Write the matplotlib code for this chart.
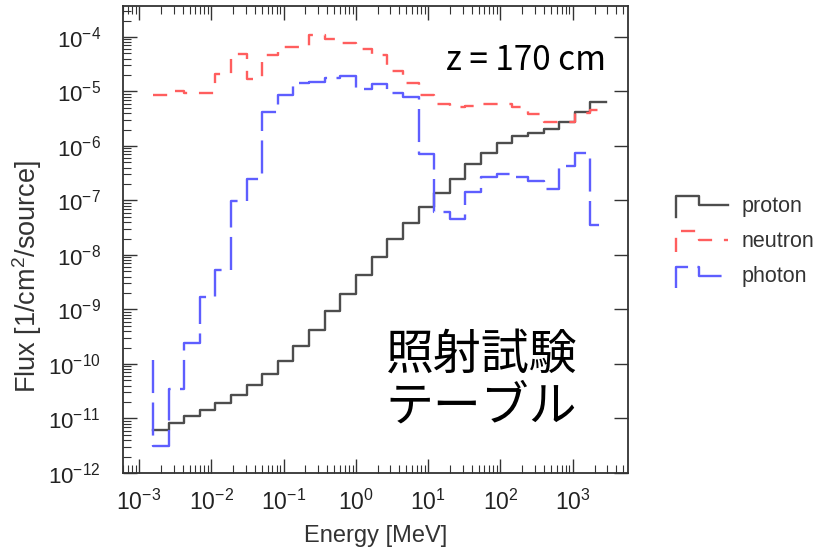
import numpy as np
import matplotlib
matplotlib.use("Agg")
import matplotlib.pyplot as plt
from matplotlib.lines import Line2D
from matplotlib.legend_handler import HandlerBase
from matplotlib.ticker import LogLocator, NullFormatter

plt.rcParams["font.family"] = ["Liberation Sans", "DejaVu Sans"]
plt.rcParams["mathtext.fontset"] = "custom"
plt.rcParams["mathtext.rm"] = "Liberation Sans"
plt.rcParams["mathtext.it"] = "Liberation Sans:italic"

# ---------------------------------------------------------------------------
# Data: flux per energy bin at z = 170 cm (shared bin edges, MeV)
# ---------------------------------------------------------------------------
edges_mev = [1.56e-3, 2.56e-3, 4.22e-3, 6.93e-3, 1.14e-2, 1.87e-2, 3.09e-2,
             5.08e-2, 8.35e-2, 0.137, 0.226, 0.372, 0.611, 1.00, 1.65, 2.72,
             4.48, 7.36, 12.1, 19.9, 32.7, 53.8, 88.5, 146.0, 240.0, 394.0,
             649.0, 1067.0, 1754.0, 2884.0]

proton = [6.1e-12, 8.1e-12, 1.09e-11, 1.46e-11, 1.95e-11, 2.68e-11, 4.05e-11,
          6.44e-11, 1.12e-10, 2.15e-10, 4.18e-10, 9.46e-10, 1.95e-9, 4.35e-9,
          9.0e-9, 1.97e-8, 3.81e-8, 7.73e-8, 1.40e-7, 2.49e-7, 4.71e-7,
          7.28e-7, 1.12e-6, 1.50e-6, 1.72e-6, 2.07e-6, 2.74e-6, 4.18e-6,
          6.38e-6]

neutron = [8.73e-6, 1.02e-5, 9.5e-6, 9.5e-6, 2.06e-5, 4.95e-5, 1.72e-5,
           4.61e-5, 6.55e-5, 6.55e-5, 1.11e-4, 9.35e-5, 7.76e-5, 6.12e-5,
           4.61e-5, 2.39e-5, 1.43e-5, 8.48e-6, 5.97e-6, 5.16e-6, 5.32e-6,
           5.79e-6, 5.79e-6, 5.16e-6, 3.79e-6, 2.74e-6, 2.72e-6, 4.01e-6,
           4.5e-6]

photon = [3.12e-12, 3.52e-11, 2.44e-10, 1.66e-9, 5.41e-9, 9.95e-8, 2.49e-7,
          4.18e-6, 8.47e-6, 1.45e-5, 1.50e-5, 1.74e-5, 1.94e-5, 1.12e-5,
          1.39e-5, 9.2e-6, 7.9e-6, 6.98e-7, 6.07e-8, 4.59e-8, 1.42e-7,
          2.75e-7, 3.08e-7, 2.75e-7, 2.25e-7, 1.63e-7, 4.38e-7, 7.38e-7,
          3.6e-8]

# level the photon histogram line starts from at the first edge
photon_start = 1.19e-10

series_labels = ["proton", "neutron", "photon"]

# decade ticks shown on the axes
x_decades = [-3, -2, -1, 0, 1, 2, 3]
y_decades = [-12, -11, -10, -9, -8, -7, -6, -5, -4]

# ---------------------------------------------------------------------------
# Styles
# ---------------------------------------------------------------------------
styles = {
    "proton":  dict(color="#4d4d4d", lw=1.7, ls="-"),
    "neutron": dict(color="#ff5e5e", lw=1.7, ls=(0, (6, 5))),
    "photon":  dict(color="#5e5eff", lw=1.7, ls=(0, (14, 4))),
}


def step_xy(edges, values, start=None):
    xs = list(edges)
    ys = list(values) + [values[-1]]
    if start is not None:
        xs = [edges[0]] + xs
        ys = [start] + ys
    return xs, ys


class StepHandler(HandlerBase):
    """Legend glyph shaped like a small histogram step."""
    def create_artists(self, legend, orig_handle, xdescent, ydescent,
                       width, height, fontsize, trans):
        xs = np.array([0.0, 0.0, 0.45, 0.45, 1.0]) * width - xdescent
        ys = np.array([-0.35, 1.05, 1.05, 0.45, 0.45]) * height - ydescent
        ln = Line2D(xs, ys, color=orig_handle.get_color(),
                    linewidth=orig_handle.get_linewidth())
        dashes = orig_handle._unscaled_dash_pattern[1]
        if dashes:
            ln.set_dashes(dashes)
        ln.set_transform(trans)
        return [ln]


fig = plt.figure(figsize=(8.21, 5.51), dpi=100)
ax = fig.add_axes([0.1498, 0.1416, 0.6151, 0.8475])

lines = []
for name, vals in zip(series_labels, [proton, neutron, photon]):
    start = photon_start if name == "photon" else None
    xs, ys = step_xy(edges_mev, vals, start)
    ln, = ax.plot(xs, ys, drawstyle="steps-post", label=name, **styles[name])
    lines.append(ln)

ax.set_xscale("log")
ax.set_yscale("log")
ax.set_xlim(6e-4, 5.8e3)
ax.set_ylim(1e-12, 3.7e-4)

ax.set_xticks([10.0 ** d for d in x_decades])
ax.set_yticks([10.0 ** d for d in y_decades])
ax.xaxis.set_minor_locator(LogLocator(base=10, subs=np.arange(2, 10), numticks=20))
ax.yaxis.set_minor_locator(LogLocator(base=10, subs=np.arange(2, 10), numticks=20))
ax.xaxis.set_minor_formatter(NullFormatter())
ax.yaxis.set_minor_formatter(NullFormatter())

ax.tick_params(which="both", direction="in", top=True, right=True,
               colors="#333333", labelcolor="#222222")
ax.tick_params(which="major", length=10, width=1.0)
ax.tick_params(which="minor", length=5.5, width=0.8, right=False)
ax.tick_params(axis="x", pad=12, labelsize=16.5)
ax.tick_params(axis="y", pad=16, labelsize=16)
for sp in ax.spines.values():
    sp.set_color("#333333")
    sp.set_linewidth(1.3)

ax.set_xlabel("Energy [MeV]", fontsize=17, color="#333333")
ax.xaxis.set_label_coords(0.5, -0.135)
ax.xaxis.label.set_va("center")
ax.set_ylabel("Flux [1/cm$^2$/source]", fontsize=19.5, color="#333333")
ax.yaxis.set_label_coords(-0.19, 0.42)
ax.yaxis.label.set_va("center")

ax.text(0.64, 0.884, "z = 170 cm", transform=ax.transAxes, fontsize=24,
        family=["Noto Sans CJK JP", "DejaVu Sans"], color="black",
        ha="left", va="center")
ax.text(0.52, 0.197, "照射試験\nテーブル", transform=ax.transAxes, fontsize=34.5,
        family=["Noto Sans CJK JP", "DejaVu Sans"], color="black",
        ha="left", va="center", linespacing=1.05)

leg = ax.legend(handles=lines, handler_map={Line2D: StepHandler()},
                loc="upper left", bbox_to_anchor=(676 / 821, 1 - 196 / 551),
                bbox_transform=fig.transFigure, frameon=False, fontsize=15.5,
                handlelength=2.4, handletextpad=0.65, labelspacing=0.66,
                borderpad=0, borderaxespad=0)
for t in leg.get_texts():
    t.set_color("#333333")

fig.savefig("out.png", dpi=100, facecolor="white")
